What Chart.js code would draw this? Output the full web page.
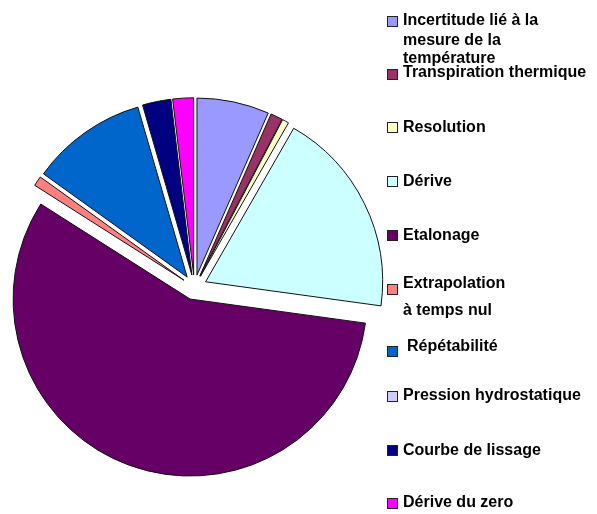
<!DOCTYPE html>
<html>
<head>
<meta charset="utf-8">
<script src="https://cdn.jsdelivr.net/npm/chart.js@4/dist/chart.umd.min.js"></script>
<style>
  html, body { margin: 0; padding: 0; background: #fff; }
  #wrap { position: relative; width: 597px; height: 514px; overflow: hidden; }
  #pie { position: absolute; left: 0; top: 0; }
  #legend { position: absolute; left: 0; top: 0; width: 597px; height: 514px; pointer-events: none;
            font-family: "Liberation Sans", Arial, sans-serif; font-weight: bold; font-size: 16px; color: #000; }
  .sw { position: absolute; box-sizing: border-box; width: 11px; height: 11px; border: 1px solid #222; }
  .ln { position: absolute; line-height: 16px; white-space: nowrap; }
</style>
</head>
<body>
<div id="wrap">
  <canvas id="pie" width="597" height="514"></canvas>
  <div id="legend"></div>
</div>
<script>
// Uncertainty components (share of the total budget, %)
const categories = [
  ["Incertitude lié à la", "mesure de la", "température"],
  ["Transpiration thermique"],
  ["Resolution"],
  ["Dérive"],
  ["Etalonage"],
  ["Extrapolation", "à temps nul"],
  [" Répétabilité"],
  ["Pression hydrostatique"],
  ["Courbe de lissage"],
  ["Dérive du zero"]
];
const shares = [6.6, 1.1, 0.6, 18.9, 56.9, 0.9, 10.6, 0, 2.6, 1.9];
const sliceColors = [
  "#9999FF", "#993366", "#FFFFCC", "#CCFFFF", "#660066",
  "#FF8080", "#0066CC", "#CCCCFF", "#000080", "#FF00FF"
];

// Legend layout: swatch top and text baselines for each entry
const swatchTops = [16, 69, 122, 176, 230, 284, 346, 391, 445, 498];
const lineBaselines = [
  [25, 45, 63], [77], [132.7], [186], [240],
  [288.3, 315.7], [351.7], [400.7], [455], [507.7]
];

const EXPLODE = 12.5;
const BASELINE_SHIFT = 13.5;

// Pull every slice outward along its bisector
const explodePlugin = {
  id: 'explodeSlices',
  beforeDatasetDraw(chart, args) {
    const ctx = chart.ctx;
    args.meta.data.forEach(arc => {
      const mid = (arc.startAngle + arc.endAngle) / 2;
      ctx.save();
      ctx.translate(Math.cos(mid) * EXPLODE, Math.sin(mid) * EXPLODE);
      arc.draw(ctx);
      ctx.restore();
    });
    return false;
  }
};

new Chart(document.getElementById('pie'), {
  type: 'pie',
  data: {
    labels: categories.map(c => c.join(' ').trim()),
    datasets: [{
      data: shares,
      backgroundColor: sliceColors,
      borderColor: '#111',
      borderWidth: 1
    }]
  },
  options: {
    responsive: false,
    animation: false,
    radius: 177,
    layout: { padding: { left: 0, top: 60.6, right: 208.2, bottom: 0 } },
    plugins: {
      legend: { display: false },
      tooltip: { enabled: false }
    }
  },
  plugins: [explodePlugin]
});

// Legend entries
const legend = document.getElementById('legend');
categories.forEach((lines, i) => {
  const sw = document.createElement('div');
  sw.className = 'sw';
  sw.style.left = '387px';
  sw.style.top = swatchTops[i] + 'px';
  sw.style.background = sliceColors[i];
  legend.appendChild(sw);
  lines.forEach((txt, j) => {
    const el = document.createElement('div');
    el.className = 'ln';
    el.style.left = (txt.startsWith(' ') ? 407 : 403) + 'px';
    el.style.top = (lineBaselines[i][j] - BASELINE_SHIFT) + 'px';
    el.textContent = txt.trim();
    legend.appendChild(el);
  });
});
</script>
</body>
</html>
